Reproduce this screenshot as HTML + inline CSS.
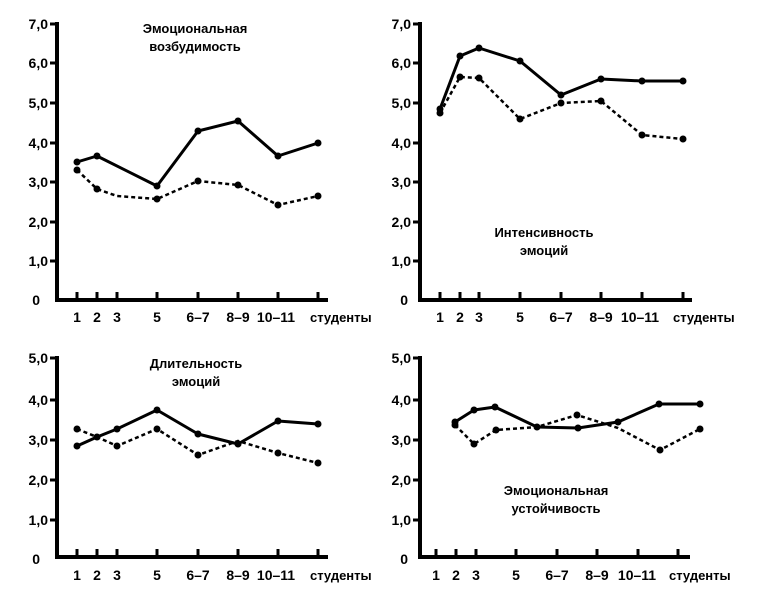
<!DOCTYPE html>
<html><head><meta charset="utf-8"><style>
body{margin:0;background:#fff}
svg text{font-family:"Liberation Sans","DejaVu Sans",sans-serif;font-weight:bold;fill:#000}
</style></head><body>
<svg width="763" height="588" viewBox="0 0 763 588" xmlns="http://www.w3.org/2000/svg">
<defs>
<style>.s{fill:none;stroke:#000;stroke-width:3;stroke-linejoin:round}.d{fill:none;stroke:#000;stroke-width:2.5;stroke-dasharray:4,3}.ax{stroke:#000;stroke-width:4;fill:none}</style>
</defs>
<!-- Top-left -->
<g>
<polyline class="ax" points="57,22 57,300 328,300"/>
<g stroke="#000" stroke-width="3">
<line x1="50" y1="24" x2="57" y2="24"/><line x1="50" y1="63" x2="57" y2="63"/><line x1="50" y1="103" x2="57" y2="103"/><line x1="50" y1="143" x2="57" y2="143"/><line x1="50" y1="182" x2="57" y2="182"/><line x1="50" y1="222" x2="57" y2="222"/><line x1="50" y1="261" x2="57" y2="261"/>
<line x1="77" y1="292" x2="77" y2="300"/><line x1="97" y1="292" x2="97" y2="300"/><line x1="117" y1="292" x2="117" y2="300"/><line x1="157" y1="292" x2="157" y2="300"/><line x1="198" y1="292" x2="198" y2="300"/><line x1="238" y1="292" x2="238" y2="300"/><line x1="278" y1="292" x2="278" y2="300"/><line x1="318" y1="292" x2="318" y2="300"/>
</g>
<g font-size="14" text-anchor="end"><text x="48" y="29">7,0</text><text x="48" y="68">6,0</text><text x="48" y="108">5,0</text><text x="48" y="148">4,0</text><text x="48" y="187">3,0</text><text x="48" y="227">2,0</text><text x="48" y="266">1,0</text><text x="40" y="305">0</text></g>
<g font-size="14" text-anchor="middle"><text x="77" y="322">1</text><text x="97" y="322">2</text><text x="117" y="322">3</text><text x="157" y="322">5</text><text x="198" y="322">6–7</text><text x="238" y="322">8–9</text><text x="276" y="322">10–11</text></g>
<text x="310" y="322" font-size="13">студенты</text>
<text x="195" y="33" font-size="13" text-anchor="middle">Эмоциональная</text>
<text x="195" y="51" font-size="13" text-anchor="middle">возбудимость</text>
<polyline class="s" points="77,162 97,156 157,186 198,131 238,121 278,156 318,143"/>
<polyline class="d" points="77,170 97,189 117,196 157,199 198,181 238,185 278,205 318,196"/>
<g fill="#000"><circle cx="77" cy="162" r="3.5"/><circle cx="97" cy="156" r="3.5"/><circle cx="157" cy="186" r="3.5"/><circle cx="198" cy="131" r="3.5"/><circle cx="238" cy="121" r="3.5"/><circle cx="278" cy="156" r="3.5"/><circle cx="318" cy="143" r="3.5"/>
<circle cx="77" cy="170" r="3.5"/><circle cx="97" cy="189" r="3.5"/><circle cx="157" cy="199" r="3.5"/><circle cx="198" cy="181" r="3.5"/><circle cx="238" cy="185" r="3.5"/><circle cx="278" cy="205" r="3.5"/><circle cx="318" cy="196" r="3.5"/></g>
</g>
<!-- Top-right -->
<g>
<polyline class="ax" points="420,22 420,300 692,300"/>
<g stroke="#000" stroke-width="3">
<line x1="413" y1="24" x2="420" y2="24"/><line x1="413" y1="63" x2="420" y2="63"/><line x1="413" y1="103" x2="420" y2="103"/><line x1="413" y1="143" x2="420" y2="143"/><line x1="413" y1="182" x2="420" y2="182"/><line x1="413" y1="222" x2="420" y2="222"/><line x1="413" y1="261" x2="420" y2="261"/>
<line x1="440" y1="292" x2="440" y2="300"/><line x1="460" y1="292" x2="460" y2="300"/><line x1="479" y1="292" x2="479" y2="300"/><line x1="520" y1="292" x2="520" y2="300"/><line x1="561" y1="292" x2="561" y2="300"/><line x1="601" y1="292" x2="601" y2="300"/><line x1="642" y1="292" x2="642" y2="300"/><line x1="683" y1="292" x2="683" y2="300"/>
</g>
<g font-size="14" text-anchor="end"><text x="411" y="29">7,0</text><text x="411" y="68">6,0</text><text x="411" y="108">5,0</text><text x="411" y="148">4,0</text><text x="411" y="187">3,0</text><text x="411" y="227">2,0</text><text x="411" y="266">1,0</text><text x="408" y="305">0</text></g>
<g font-size="14" text-anchor="middle"><text x="440" y="322">1</text><text x="460" y="322">2</text><text x="479" y="322">3</text><text x="520" y="322">5</text><text x="561" y="322">6–7</text><text x="601" y="322">8–9</text><text x="640" y="322">10–11</text></g>
<text x="673" y="322" font-size="13">студенты</text>
<text x="544" y="237" font-size="13" text-anchor="middle">Интенсивность</text>
<text x="544" y="255" font-size="13" text-anchor="middle">эмоций</text>
<polyline class="s" points="440,109 460,56 479,48 520,61 561,95 601,79 642,81 683,81"/>
<polyline class="d" points="440,113 460,77 479,78 520,119 561,103 601,101 642,135 683,139"/>
<g fill="#000"><circle cx="440" cy="109" r="3.5"/><circle cx="460" cy="56" r="3.5"/><circle cx="479" cy="48" r="3.5"/><circle cx="520" cy="61" r="3.5"/><circle cx="561" cy="95" r="3.5"/><circle cx="601" cy="79" r="3.5"/><circle cx="642" cy="81" r="3.5"/><circle cx="683" cy="81" r="3.5"/>
<circle cx="440" cy="113" r="3.5"/><circle cx="460" cy="77" r="3.5"/><circle cx="479" cy="78" r="3.5"/><circle cx="520" cy="119" r="3.5"/><circle cx="561" cy="103" r="3.5"/><circle cx="601" cy="101" r="3.5"/><circle cx="642" cy="135" r="3.5"/><circle cx="683" cy="139" r="3.5"/></g>
</g>
<!-- Bottom-left -->
<g>
<polyline class="ax" points="57,356 57,557 328,557"/>
<g stroke="#000" stroke-width="3">
<line x1="50" y1="358" x2="57" y2="358"/><line x1="50" y1="400" x2="57" y2="400"/><line x1="50" y1="440" x2="57" y2="440"/><line x1="50" y1="480" x2="57" y2="480"/><line x1="50" y1="520" x2="57" y2="520"/>
<line x1="77" y1="549" x2="77" y2="557"/><line x1="97" y1="549" x2="97" y2="557"/><line x1="117" y1="549" x2="117" y2="557"/><line x1="157" y1="549" x2="157" y2="557"/><line x1="198" y1="549" x2="198" y2="557"/><line x1="238" y1="549" x2="238" y2="557"/><line x1="278" y1="549" x2="278" y2="557"/><line x1="318" y1="549" x2="318" y2="557"/>
</g>
<g font-size="14" text-anchor="end"><text x="48" y="363">5,0</text><text x="48" y="405">4,0</text><text x="48" y="445">3,0</text><text x="48" y="485">2,0</text><text x="48" y="525">1,0</text><text x="40" y="564">0</text></g>
<g font-size="14" text-anchor="middle"><text x="77" y="580">1</text><text x="97" y="580">2</text><text x="117" y="580">3</text><text x="157" y="580">5</text><text x="198" y="580">6–7</text><text x="238" y="580">8–9</text><text x="276" y="580">10–11</text></g>
<text x="310" y="580" font-size="13">студенты</text>
<text x="196" y="368" font-size="13" text-anchor="middle">Длительность</text>
<text x="196" y="386" font-size="13" text-anchor="middle">эмоций</text>
<polyline class="s" points="77,446 97,437 117,429 157,410 198,434 238,444 278,421 318,424"/>
<polyline class="d" points="77,429 97,437 117,446 157,429 198,455 238,441 278,453 318,463"/>
<g fill="#000"><circle cx="77" cy="446" r="3.5"/><circle cx="97" cy="437" r="3.5"/><circle cx="117" cy="429" r="3.5"/><circle cx="157" cy="410" r="3.5"/><circle cx="198" cy="434" r="3.5"/><circle cx="238" cy="444" r="3.5"/><circle cx="278" cy="421" r="3.5"/><circle cx="318" cy="424" r="3.5"/>
<circle cx="77" cy="429" r="3.5"/><circle cx="117" cy="446" r="3.5"/><circle cx="157" cy="429" r="3.5"/><circle cx="198" cy="455" r="3.5"/><circle cx="278" cy="453" r="3.5"/><circle cx="318" cy="463" r="3.5"/></g>
</g>
<!-- Bottom-right -->
<g>
<polyline class="ax" points="420,356 420,557 690,557"/>
<g stroke="#000" stroke-width="3">
<line x1="413" y1="358" x2="420" y2="358"/><line x1="413" y1="400" x2="420" y2="400"/><line x1="413" y1="440" x2="420" y2="440"/><line x1="413" y1="480" x2="420" y2="480"/><line x1="413" y1="520" x2="420" y2="520"/>
<line x1="436" y1="549" x2="436" y2="557"/><line x1="456" y1="549" x2="456" y2="557"/><line x1="476" y1="549" x2="476" y2="557"/><line x1="516" y1="549" x2="516" y2="557"/><line x1="557" y1="549" x2="557" y2="557"/><line x1="597" y1="549" x2="597" y2="557"/><line x1="638" y1="549" x2="638" y2="557"/><line x1="678" y1="549" x2="678" y2="557"/>
</g>
<g font-size="14" text-anchor="end"><text x="411" y="363">5,0</text><text x="411" y="405">4,0</text><text x="411" y="445">3,0</text><text x="411" y="485">2,0</text><text x="411" y="525">1,0</text><text x="408" y="564">0</text></g>
<g font-size="14" text-anchor="middle"><text x="436" y="580">1</text><text x="456" y="580">2</text><text x="476" y="580">3</text><text x="516" y="580">5</text><text x="557" y="580">6–7</text><text x="597" y="580">8–9</text><text x="637" y="580">10–11</text></g>
<text x="669" y="580" font-size="13">студенты</text>
<text x="556" y="495" font-size="13" text-anchor="middle">Эмоциональная</text>
<text x="556" y="513" font-size="13" text-anchor="middle">устойчивость</text>
<polyline class="s" points="455,422 474,410 495,407 537,427 578,428 618,422 659,404 700,404"/>
<polyline class="d" points="455,425 474,444 496,430 537,427 577,415 618,428 660,450 700,429"/>
<g fill="#000"><circle cx="455" cy="422" r="3.5"/><circle cx="474" cy="410" r="3.5"/><circle cx="495" cy="407" r="3.5"/><circle cx="537" cy="427" r="3.5"/><circle cx="578" cy="428" r="3.5"/><circle cx="618" cy="422" r="3.5"/><circle cx="659" cy="404" r="3.5"/><circle cx="700" cy="404" r="3.5"/>
<circle cx="455" cy="425" r="3.5"/><circle cx="474" cy="444" r="3.5"/><circle cx="496" cy="430" r="3.5"/><circle cx="577" cy="415" r="3.5"/><circle cx="660" cy="450" r="3.5"/><circle cx="700" cy="429" r="3.5"/></g>
</g>
</svg>
</body></html>
